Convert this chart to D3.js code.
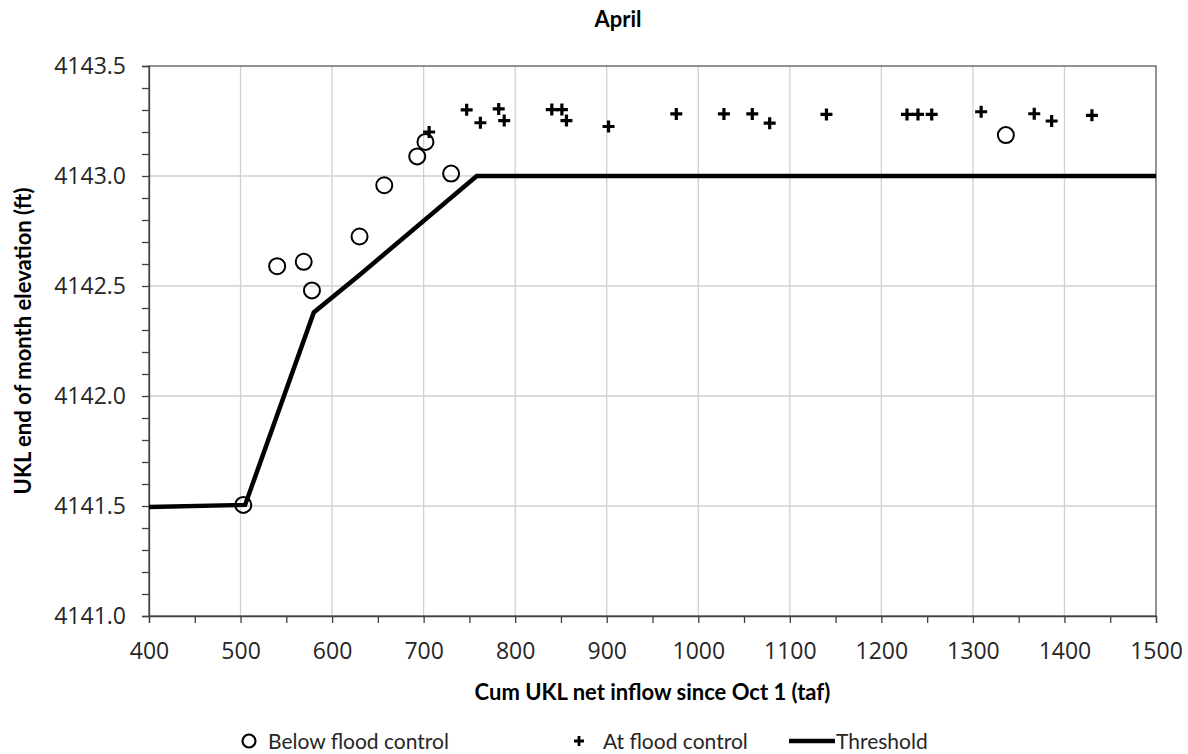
<!DOCTYPE html>
<html>
<head>
<meta charset="utf-8">
<script src="https://cdn.jsdelivr.net/npm/d3@7"></script>
<style>
  body { margin: 0; background: #fff; }
  svg { display: block; }
</style>
</head>
<body>
<svg></svg>
<script>
var width = 1188;
var height = 754;
var margin = {top: 66, right: 32, bottom: 138, left: 149};

// Below flood control (circles)
var belowX = [503, 540, 569, 578, 630, 657, 693, 702, 730, 1336];
var belowY = [4141.505, 4142.59, 4142.61, 4142.48, 4142.725, 4142.958, 4143.089, 4143.155, 4143.011, 4143.186];

// At flood control (plus)
var atX = [706, 747, 762, 782, 788, 840, 851, 856, 902, 976, 1028, 1059, 1078, 1140, 1228, 1240, 1255, 1309, 1367, 1386, 1430];
var atY = [4143.2, 4143.301, 4143.242, 4143.305, 4143.252, 4143.302, 4143.302, 4143.252, 4143.225, 4143.282, 4143.282, 4143.282, 4143.24, 4143.28, 4143.28, 4143.28, 4143.28, 4143.292, 4143.283, 4143.25, 4143.276];

// Threshold line
var threshX = [400, 505, 580, 630, 758, 1500];
var threshY = [4141.495, 4141.505, 4142.38, 4142.55, 4143.0, 4143.0];

var xTicks = [400, 500, 600, 700, 800, 900, 1000, 1100, 1200, 1300, 1400, 1500];
var yTicks = [4141.0, 4141.5, 4142.0, 4142.5, 4143.0, 4143.5];

var svg = d3.select("svg")
    .attr("width", width)
    .attr("height", height)
    .style("font-family", "'Open Sans', sans-serif");

var xScale = d3.scaleLinear().domain([400, 1500]).range([margin.left, width - margin.right]);
var yScale = d3.scaleLinear().domain([4141.0, 4143.5]).range([height - margin.bottom, margin.top]);

var x0 = xScale.range()[0], x1 = xScale.range()[1];
var y0 = yScale.range()[0], y1 = yScale.range()[1];

// grid
svg.append("g").selectAll("line.vg")
    .data(xTicks.slice(1, -1))
    .enter().append("line")
    .attr("x1", d => xScale(d)).attr("x2", d => xScale(d))
    .attr("y1", y0).attr("y2", y1)
    .attr("stroke", "#d0d0d0").attr("stroke-width", 1.3);

svg.append("g").selectAll("line.hg")
    .data(yTicks.slice(1, -1))
    .enter().append("line")
    .attr("x1", x0).attr("x2", x1)
    .attr("y1", d => yScale(d)).attr("y2", d => yScale(d))
    .attr("stroke", "#d0d0d0").attr("stroke-width", 1.3);

// plot box
svg.append("rect")
    .attr("x", x0).attr("y", y1)
    .attr("width", x1 - x0).attr("height", y0 - y1)
    .attr("fill", "none").attr("stroke", "#595959").attr("stroke-width", 1.3);

// axes
var xAxis = d3.axisBottom(xScale)
    .tickValues(d3.range(400, 1501, 50))
    .tickSize(7)
    .tickFormat(d => xTicks.indexOf(d) >= 0 ? d : "");
var gx = svg.append("g")
    .attr("transform", "translate(0," + y0 + ")")
    .call(xAxis);
gx.select(".domain").attr("stroke", "#404040").attr("stroke-width", 1.3);
gx.selectAll(".tick line").attr("stroke", "#404040").attr("stroke-width", 1.3);
gx.selectAll("text")
    .attr("y", 43).attr("dy", null)
    .style("font-size", "23px")
    .style("font-family", "'Open Sans', sans-serif")
    .attr("fill", "#262626");

var yAxis = d3.axisLeft(yScale)
    .tickValues(d3.range(0, 26).map(i => 4141.0 + i * 0.1))
    .tickSize(7)
    .tickFormat(function(d) {
        var r = Math.round(d * 10) / 10;
        return Math.abs(r * 2 - Math.round(r * 2)) < 1e-6 ? d3.format(".1f")(r) : "";
    });
var gy = svg.append("g")
    .attr("transform", "translate(" + x0 + ",0)")
    .call(yAxis);
gy.select(".domain").attr("stroke", "#404040").attr("stroke-width", 1.3);
gy.selectAll(".tick line").attr("stroke", "#404040").attr("stroke-width", 1.3);
gy.selectAll("text")
    .attr("x", -23)
    .style("font-size", "23px")
    .style("font-family", "'Open Sans', sans-serif")
    .attr("fill", "#262626");

// threshold
var thresh = threshX.map((d, i) => [d, threshY[i]]);
var line = d3.line()
    .x(d => xScale(d[0]))
    .y(d => yScale(d[1]));
svg.append("path")
    .attr("d", line(thresh))
    .attr("fill", "none")
    .attr("stroke", "#000")
    .attr("stroke-width", 4.5)
    .attr("stroke-linejoin", "miter");

// circles
svg.append("g").selectAll("circle")
    .data(belowX)
    .enter().append("circle")
    .attr("cx", d => xScale(d))
    .attr("cy", (d, i) => yScale(belowY[i]))
    .attr("r", 8)
    .attr("fill", "none")
    .attr("stroke", "#000")
    .attr("stroke-width", 2);

// plus markers
function plusPath(s) {
    return "M" + (-s) + ",0H" + s + "M0," + (-s) + "V" + s;
}
svg.append("g").selectAll("path")
    .data(atX)
    .enter().append("path")
    .attr("d", plusPath(6))
    .attr("transform", (d, i) => "translate(" + xScale(d) + "," + yScale(atY[i]) + ")")
    .attr("stroke", "#000")
    .attr("stroke-width", 3.2)
    .attr("fill", "none");

// title
svg.append("text")
    .attr("x", 618).attr("y", 27)
    .attr("text-anchor", "middle")
    .style("font-family", "Lato, sans-serif")
    .style("font-weight", "bold")
    .style("font-size", "22px")
    .attr("fill", "#000")
    .text("April");

// axis titles
svg.append("text")
    .attr("x", (x0 + x1) / 2).attr("y", 700)
    .attr("text-anchor", "middle")
    .style("font-family", "Lato, sans-serif")
    .style("font-weight", "bold")
    .style("font-size", "22px")
    .attr("fill", "#000")
    .text("Cum UKL net inflow since Oct 1 (taf)");

svg.append("text")
    .attr("transform", "translate(31," + ((y0 + y1) / 2) + ") rotate(-90)")
    .attr("text-anchor", "middle")
    .style("font-family", "Lato, sans-serif")
    .style("font-weight", "bold")
    .style("font-size", "22px")
    .attr("fill", "#000")
    .text("UKL end of month elevation (ft)");

// legend
var ly = 749;
var legend = svg.append("g").style("font-family", "Lato, sans-serif").style("font-size", "21px");
legend.append("circle")
    .attr("cx", 249).attr("cy", ly - 8).attr("r", 6.5)
    .attr("fill", "none").attr("stroke", "#000").attr("stroke-width", 2.2);
legend.append("text").attr("x", 268).attr("y", ly).text("Below flood control").attr("fill", "#262626");
legend.append("path")
    .attr("d", plusPath(5))
    .attr("transform", "translate(579," + (ly - 8) + ")")
    .attr("stroke", "#000").attr("stroke-width", 2.8);
legend.append("text").attr("x", 603).attr("y", ly).text("At flood control").attr("fill", "#262626");
legend.append("line")
    .attr("x1", 789).attr("x2", 835)
    .attr("y1", ly - 8).attr("y2", ly - 8)
    .attr("stroke", "#000").attr("stroke-width", 4.5);
legend.append("text").attr("x", 836).attr("y", ly).text("Threshold").attr("fill", "#262626");
</script>
</body>
</html>
